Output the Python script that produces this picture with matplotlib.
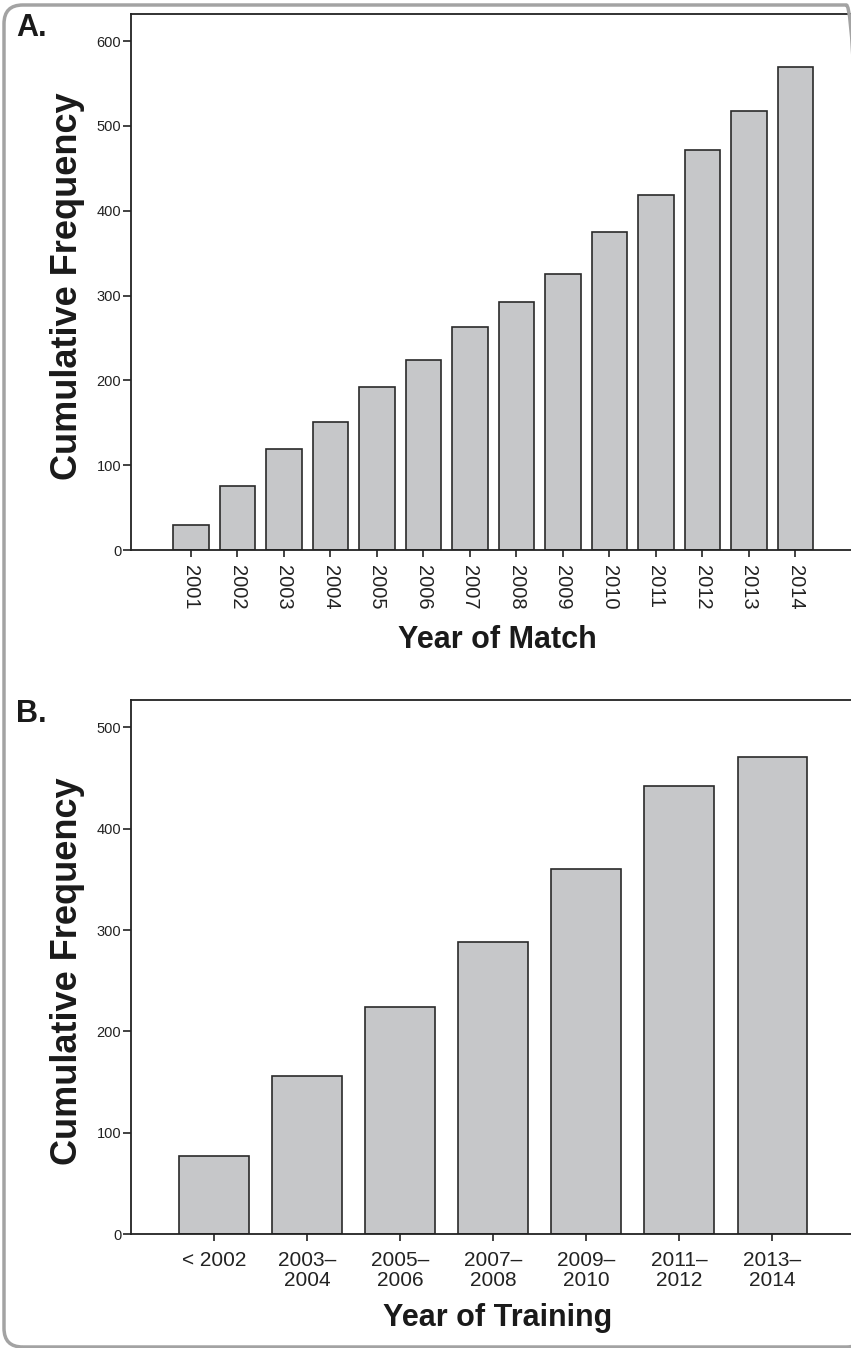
import matplotlib
matplotlib.use("Agg")
import matplotlib.pyplot as plt
from matplotlib.patches import FancyBboxPatch

plt.rcParams['font.family'] = ['Liberation Sans', 'DejaVu Sans']

# ---- data ----
years_match = ['2001', '2002', '2003', '2004', '2005', '2006', '2007',
               '2008', '2009', '2010', '2011', '2012', '2013', '2014']
cum_match = [30, 75, 119, 151, 192, 224, 263, 293, 326, 375, 419, 472, 518, 569]

years_training = ['< 2002', '2003–\n2004', '2005–\n2006', '2007–\n2008',
                  '2009–\n2010', '2011–\n2012', '2013–\n2014']
cum_training = [77, 156, 224, 288, 360, 442, 471]

yticks_a = [0, 100, 200, 300, 400, 500, 600]
yticks_b = [0, 100, 200, 300, 400, 500]

W, H = 851, 1348
fig = plt.figure(figsize=(W / 100, H / 100), dpi=100)

BAR_FC = '#c6c7c9'
BAR_EC = '#2a2a2a'
SPINE_C = '#222222'


def px_ax(left, top, right, bottom):
    return [left / W, 1 - bottom / H, (right - left) / W, (bottom - top) / H]


def style(ax):
    for s in ['left', 'top', 'bottom']:
        ax.spines[s].set_color(SPINE_C)
        ax.spines[s].set_linewidth(1.3)
    ax.spines['right'].set_visible(False)
    ax.tick_params(axis='y', direction='out', length=6, width=1.2,
                   pad=1, labelsize=10.5, colors='#222222')
    ax.tick_params(axis='x', direction='out', length=5, width=1.2,
                   colors='#222222')


# ---- Panel A ----
axA = fig.add_axes(px_ax(131, 14, 856, 550))
xa = list(range(len(years_match)))
axA.bar(xa, cum_match, width=0.77, color=BAR_FC, edgecolor=BAR_EC, linewidth=1.2)
axA.set_xlim(-1.29, -1.29 + 725 / 46.5)
axA.set_ylim(0, 632)
axA.set_yticks(yticks_a)
axA.set_xticks(xa)
axA.set_xticklabels(years_match, rotation=-90, va='top', ha='center')
style(axA)
axA.tick_params(axis='x', pad=6, labelsize=14.5)

fig.text(68 / W, 1 - 286 / H, 'Cumulative Frequency', rotation=90,
         ha='center', va='center', fontsize=26, fontweight='bold', color='#1a1a1a')
fig.text(497 / W, 1 - 640 / H, 'Year of Match', ha='center', va='center',
         fontsize=22, fontweight='bold', color='#1a1a1a')
fig.text(16 / W, 1 - 28 / H, 'A.', ha='left', va='center',
         fontsize=22, fontweight='bold', color='#1a1a1a')

# ---- Panel B ----
axB = fig.add_axes(px_ax(131, 700, 856, 1234))
xb = list(range(len(years_training)))
axB.bar(xb, cum_training, width=0.75, color=BAR_FC, edgecolor=BAR_EC, linewidth=1.2)
axB.set_xlim(-0.89, -0.89 + 725 / 93.1)
axB.set_ylim(0, 527)
axB.set_yticks(yticks_b)
axB.set_xticks(xb)
axB.set_xticklabels(years_training, va='top', ha='center', linespacing=1.08)
style(axB)
axB.tick_params(axis='x', pad=7, labelsize=15)

fig.text(68 / W, 1 - 971 / H, 'Cumulative Frequency', rotation=90,
         ha='center', va='center', fontsize=26, fontweight='bold', color='#1a1a1a')
fig.text(498 / W, 1 - 1318 / H, 'Year of Training', ha='center', va='center',
         fontsize=22, fontweight='bold', color='#1a1a1a')
fig.text(16 / W, 1 - 714 / H, 'B.', ha='left', va='center',
         fontsize=22, fontweight='bold', color='#1a1a1a')

# ---- rounded frame ----
frame = FancyBboxPatch((4 / W, 1 / H), (W + 10) / W, (H - 6) / H,
                       boxstyle='round,pad=0,rounding_size=0.022',
                       transform=fig.transFigure, fill=False,
                       edgecolor='#a3a3a3', linewidth=2.5, zorder=0,
                       mutation_aspect=W / H)
fig.patches.append(frame)

fig.savefig('out.png', dpi=100)
